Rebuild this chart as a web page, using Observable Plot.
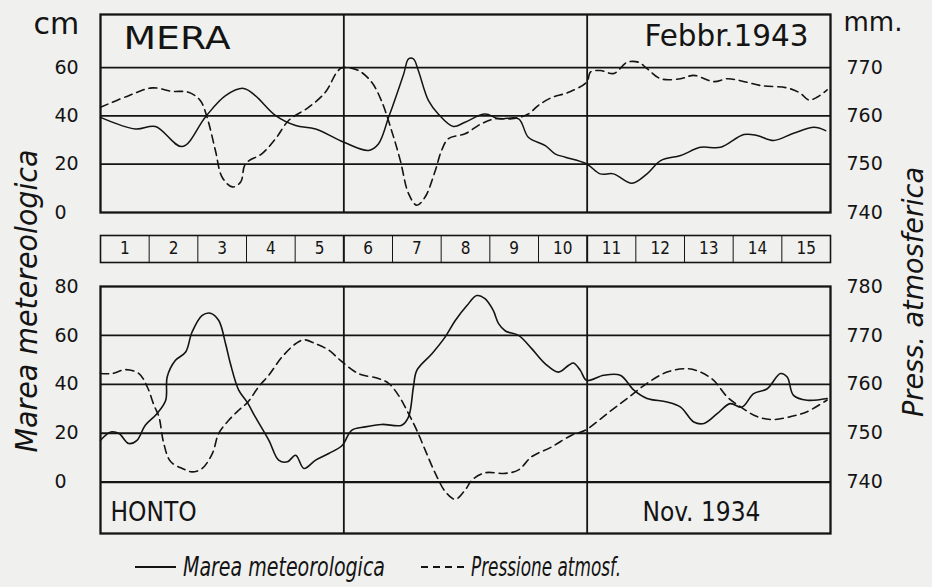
<!DOCTYPE html>
<html>
<head>
<meta charset="utf-8">
<script src="https://cdn.jsdelivr.net/npm/d3@7"></script>
<script src="https://cdn.jsdelivr.net/npm/@observablehq/plot@0.6"></script>
<style>
  html, body { margin: 0; padding: 0; background: #f0f0ee; }
  #wrap { position: relative; width: 932px; height: 587px; overflow: hidden; background: #f0f0ee; }
  #wrap > svg, #wrap > figure { position: absolute; left: 0; margin: 0; }
  .ov { position: absolute; left: 0; top: 0; pointer-events: none; }
</style>
</head>
<body>
<div id="wrap"></div>
<script>
// ---------------- DATA ----------------
// day position (0 = start of day 1 ... 15 = end of day 15)
const dayLabels = [1,2,3,4,5,6,7,8,9,10,11,12,13,14,15];
const panelDividers = [5, 10];

// MERA, Febbr. 1943 — marea meteorologica (cm)
const meraTideDay = [0.00,0.72,1.13,1.68,2.16,2.57,2.94,3.18,3.60,4.01,4.42,5.00,5.51,5.71,5.92,6.23,6.33,6.43,6.53,6.74,6.94,7.25,7.49,7.90,8.18,8.59,8.79,9.14,9.34,9.55,9.99,10.27,10.54,10.92,11.23,11.51,11.92,12.33,12.74,13.22,13.49,13.83,14.24,14.66,14.90];
const meraTideCm  = [39.4,34.6,35.6,27.3,39.7,48.4,51.4,48.4,40.1,36.0,34.6,29.1,25.7,28.4,39.4,57.4,63.6,63.6,58.8,46.3,40.8,35.6,37.4,40.8,38.8,38.8,31.2,27.7,24.3,22.9,20.1,16.0,16.0,12.1,16.0,21.5,23.6,27.0,27.0,32.3,31.9,29.8,32.8,35.3,33.9];
// MERA — pressione atmosferica (mm)
const meraPresDay = [0.00,0.58,1.06,1.47,1.81,2.05,2.19,2.36,2.50,2.71,2.88,2.98,3.32,3.60,3.87,4.28,4.62,4.86,4.97,5.30,5.57,5.77,5.98,6.16,6.33,6.50,6.67,6.88,7.01,7.15,7.49,7.83,8.11,8.45,8.79,9.00,9.27,9.62,9.99,10.07,10.27,10.55,10.82,11.06,11.23,11.51,11.92,12.19,12.60,12.88,13.15,13.56,14.11,14.38,14.55,14.73,14.93];
const meraPresMm  = [761.8,764.2,765.8,765.1,764.9,763.2,759.7,752.9,747.3,745.3,746.3,750.1,752.2,755.3,759.1,761.8,764.9,769.1,770.0,769.4,767.0,763.2,757.0,750.8,743.9,741.5,743.2,748.7,752.9,755.3,756.3,758.4,759.4,759.4,760.4,762.2,763.8,764.9,767.0,769.1,769.4,768.8,771.1,771.1,769.8,767.7,767.7,768.4,767.1,767.7,767.3,766.3,765.8,764.7,763.3,763.9,765.4];

// HONTO, Nov. 1934 — marea meteorologica (cm)
const hontoTideDay = [0.00,0.21,0.38,0.58,0.75,0.92,1.16,1.34,1.37,1.54,1.75,1.88,2.09,2.26,2.43,2.57,2.67,2.84,3.01,3.18,3.46,3.66,3.84,4.01,4.18,4.42,4.69,4.97,5.16,5.44,5.78,6.19,6.33,6.43,6.50,6.81,7.08,7.29,7.53,7.73,7.90,8.07,8.18,8.32,8.59,8.86,9.14,9.41,9.62,9.72,9.86,9.99,10.34,10.68,10.96,11.23,11.64,11.92,12.19,12.40,12.67,12.94,13.18,13.42,13.70,13.97,14.11,14.24,14.52,14.93];
const hontoTideCm  = [17.1,20.5,19.9,15.8,17.1,23.3,28.0,33.5,43.0,49.8,53.2,61.3,68.2,69.1,66.1,56.6,48.4,37.6,32.8,26.7,17.1,9.0,8.3,11.0,5.6,9.0,11.7,15.1,21.2,22.6,23.6,23.3,26.7,38.9,45.7,52.5,59.3,66.1,72.2,76.3,75.0,70.2,64.8,61.8,60.0,54.6,48.4,45.0,47.8,48.7,45.7,41.6,43.7,43.7,37.6,34.2,32.8,30.7,24.6,24.0,28.0,32.1,30.7,36.2,38.2,44.4,43.0,35.5,33.5,34.2];
// HONTO — pressione atmosferica (mm)
const hontoPresDay = [0.00,0.24,0.51,0.79,0.96,1.10,1.20,1.30,1.44,1.68,1.88,2.09,2.30,2.43,2.64,2.84,3.03,3.25,3.46,3.73,4.01,4.18,4.42,4.69,4.93,5.30,5.71,5.92,6.12,6.33,6.50,6.67,6.88,7.09,7.29,7.50,7.63,7.90,8.32,8.59,8.86,9.27,9.68,9.96,10.41,10.82,11.23,11.64,12.05,12.33,12.60,12.88,13.15,13.49,13.83,14.18,14.52,14.93];
const hontoPresMm  = [762.2,762.2,763.0,762.2,759.5,755.7,753.4,747.9,744.2,742.8,742.1,742.8,745.9,750.0,752.7,754.7,756.4,759.5,761.9,765.6,768.3,769.1,768.3,767.0,764.9,762.2,761.2,760.2,757.8,754.0,750.6,746.6,741.8,738.0,736.5,738.5,740.4,741.9,741.8,742.5,745.2,747.2,749.6,750.6,754.0,757.1,760.2,762.5,763.2,762.5,760.8,757.4,755.4,753.4,752.8,753.4,754.4,756.8];

// tick labels
const cmTicksMera  = [0, 20, 40, 60];
const mmTicksMera  = [740, 750, 760, 770];
const cmTicksHonto = [0, 20, 40, 60, 80];
const mmTicksHonto = [740, 750, 760, 770, 780];

// texts
const txt = {
  cm: "cm", mm: "mm.",
  mera: "MERA", meraDate: "Febbr.1943",
  honto: "HONTO", hontoDate: "Nov. 1934",
  yLeft: "Marea metereologica", yRight: "Press. atmosferica",
  legTide: "Marea meteorologica", legPres: "Pressione atmosf."
};

(function () {
// ---------------- helpers ----------------
const mmToCm = mm => (mm - 740) * 2;      // 740 mm ↔ 0 cm, 10 mm ↔ 20 cm
const zip = (xs, ys, key) => xs.map((x, i) => ({day: x, [key]: ys[i]}));

const meraTide  = zip(meraTideDay, meraTideCm, "cm");
const meraPres  = zip(meraPresDay, meraPresMm, "mm");
const hontoTide = zip(hontoTideDay, hontoTideCm, "cm");
const hontoPres = zip(hontoPresDay, hontoPresMm, "mm");

const INK = "#141414";
const FONT = "'DejaVu Sans', sans-serif";
const COND = "'DejaVu Sans Condensed', 'DejaVu Sans', sans-serif";
const common = {
  width: 932, marginLeft: 100, marginRight: 102,
  x: {domain: [0, 15], axis: null},
  style: {background: "transparent", fontFamily: FONT, fontSize: "18px", color: INK, overflow: "visible"}
};
// tick-label marks positioned by the y scale (left: cm, right: mm)
const leftTicks  = ticks => Plot.text(ticks, {y: d => d, text: d => String(d), frameAnchor: "left", dx: -46, textAnchor: "start", fontSize: 19, fill: INK});
const rightTicks = ticks => Plot.text(ticks, {y: d => mmToCm(d), text: d => String(d), frameAnchor: "right", dx: 16, textAnchor: "start", fontSize: 19, fill: INK});

const wrap = document.getElementById("wrap");
function stretch(svg, str, len) {
  d3.select(svg).selectAll("text").filter(function () { return this.textContent === str; })
    .attr("textLength", len).attr("lengthAdjust", "spacingAndGlyphs");
}

// ---------------- MERA panel ----------------
const meraPlot = Plot.plot({
  ...common,
  height: 225, marginTop: 14, marginBottom: 13,
  y: {domain: [0, 82], axis: null},
  marks: [
    Plot.ruleY(cmTicksMera.filter(d => d > 0), {stroke: INK, strokeWidth: 1.8}),
    Plot.ruleX(panelDividers, {stroke: INK, strokeWidth: 1.8}),
    Plot.frame({stroke: INK, strokeWidth: 2.3}),
    Plot.line(meraPres, {x: "day", y: d => mmToCm(d.mm), stroke: INK, strokeWidth: 1.6, strokeDasharray: "8,5", curve: "catmull-rom"}),
    Plot.line(meraTide, {x: "day", y: "cm", stroke: INK, strokeWidth: 1.5, curve: "catmull-rom"}),
    leftTicks(cmTicksMera),
    rightTicks(mmTicksMera),
    Plot.text([txt.cm], {frameAnchor: "top-left", dx: -67, dy: 19, lineAnchor: "bottom", textAnchor: "start", fontSize: 30, fill: INK}),
    Plot.text([txt.mm], {frameAnchor: "top-right", dx: 13, dy: 16, lineAnchor: "bottom", textAnchor: "start", fontSize: 26, fill: INK}),
    Plot.text([txt.mera], {frameAnchor: "top-left", dx: 23, dy: 34, lineAnchor: "bottom", textAnchor: "start", fontSize: 32, fill: INK, fontFamily: FONT}),
    Plot.text([txt.meraDate], {frameAnchor: "top-right", dx: -22, dy: 31, lineAnchor: "bottom", textAnchor: "end", fontSize: 30, fill: INK, fontFamily: COND})
  ]
});
stretch(meraPlot, txt.mera, 107);
stretch(meraPlot, txt.meraDate, 164);
meraPlot.style.top = "0px";
wrap.appendChild(meraPlot);

// ---------------- day strip ----------------
const stripPlot = Plot.plot({
  ...common,
  height: 36, marginTop: 5, marginBottom: 4,
  y: {axis: null},
  marks: [
    Plot.ruleX(dayLabels.slice(0, -1), {x: d => d, stroke: INK, strokeWidth: d => (d % 5 === 0 ? 2 : 1)}),
    Plot.frame({stroke: INK, strokeWidth: 1.6}),
    Plot.text(dayLabels, {x: d => d - 0.5, frameAnchor: "middle", text: d => String(d), fontSize: 17, fill: INK, fontFamily: COND})
  ]
});
stripPlot.style.top = "230px";
wrap.appendChild(stripPlot);

// ---------------- HONTO panel ----------------
const hontoPlot = Plot.plot({
  ...common,
  height: 280, marginTop: 16, marginBottom: 17,
  y: {domain: [-21, 80], axis: null},
  marks: [
    Plot.ruleY(cmTicksHonto.filter(d => d < 80), {stroke: INK, strokeWidth: d => (d === 0 ? 2.3 : 1.8)}),
    Plot.ruleX(panelDividers, {stroke: INK, strokeWidth: 1.8}),
    Plot.frame({stroke: INK, strokeWidth: 2.3}),
    Plot.line(hontoPres, {x: "day", y: d => mmToCm(d.mm), stroke: INK, strokeWidth: 1.6, strokeDasharray: "8,5", curve: "catmull-rom"}),
    Plot.line(hontoTide, {x: "day", y: "cm", stroke: INK, strokeWidth: 1.6, curve: "catmull-rom"}),
    leftTicks(cmTicksHonto),
    rightTicks(mmTicksHonto),
    Plot.text([txt.honto], {frameAnchor: "bottom-left", dx: 10, dy: -13, lineAnchor: "bottom", textAnchor: "start", fontSize: 26, fill: INK, fontFamily: COND}),
    Plot.text([txt.hontoDate], {frameAnchor: "bottom-right", dx: -70, dy: -13, lineAnchor: "bottom", textAnchor: "end", fontSize: 26, fill: INK, fontFamily: COND})
  ]
});
hontoPlot.style.top = "270px";
wrap.appendChild(hontoPlot);

// ---------------- titles & legend overlay ----------------
const NS = "http://www.w3.org/2000/svg";
const ov = document.createElementNS(NS, "svg");
ov.setAttribute("class", "ov");
ov.setAttribute("width", 932);
ov.setAttribute("height", 587);
function addText(str, attrs) {
  const t = document.createElementNS(NS, "text");
  for (const k in attrs) t.setAttribute(k, attrs[k]);
  t.textContent = str;
  ov.appendChild(t);
  return t;
}
function addLine(x1, x2, y, dash) {
  const l = document.createElementNS(NS, "line");
  l.setAttribute("x1", x1); l.setAttribute("x2", x2);
  l.setAttribute("y1", y); l.setAttribute("y2", y);
  l.setAttribute("stroke", INK); l.setAttribute("stroke-width", 1.8);
  if (dash) l.setAttribute("stroke-dasharray", dash);
  ov.appendChild(l);
}
addText(txt.yLeft, {transform: "translate(37,301) rotate(-90)", "text-anchor": "middle", "font-family": COND, "font-style": "italic", "font-size": 31, fill: INK, textLength: 303, lengthAdjust: "spacingAndGlyphs"});
addText(txt.yRight, {transform: "translate(923,292) rotate(-90)", "text-anchor": "middle", "font-family": COND, "font-style": "italic", "font-size": 28, fill: INK, textLength: 250, lengthAdjust: "spacingAndGlyphs"});
addLine(135, 176, 567, null);
addText(txt.legTide, {x: 183, y: 576, "font-family": COND, "font-style": "italic", "font-size": 26, fill: INK, textLength: 202, lengthAdjust: "spacingAndGlyphs"});
addLine(421, 466, 567, "7,5");
addText(txt.legPres, {x: 471, y: 576, "font-family": COND, "font-style": "italic", "font-size": 26, fill: INK, textLength: 150, lengthAdjust: "spacingAndGlyphs"});
wrap.appendChild(ov);
})();
</script>
</body>
</html>
